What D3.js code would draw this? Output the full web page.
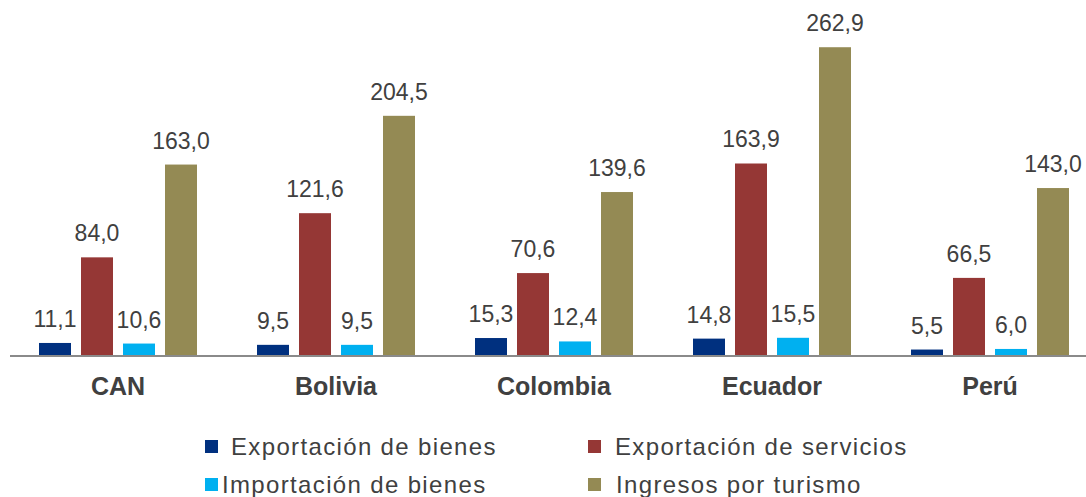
<!DOCTYPE html>
<html>
<head>
<meta charset="utf-8">
<script src="https://cdn.jsdelivr.net/npm/d3@7"></script>
<style>
  html, body { margin: 0; padding: 0; background: #ffffff; }
  svg { display: block; }
  text { font-family: "Liberation Sans", Arial, sans-serif; }
</style>
</head>
<body>
<svg id="chart" width="1086" height="497"></svg>
<script>
// ---- data ----
const categories = ["CAN", "Bolivia", "Colombia", "Ecuador", "Perú"];
const seriesNames = ["Exportación de bienes", "Exportación de servicios", "Importación de bienes", "Ingresos por turismo"];
const exportacionBienes    = [11.1, 9.5, 15.3, 14.8, 5.5];
const exportacionServicios = [84.0, 121.6, 70.6, 163.9, 66.5];
const importacionBienes    = [10.6, 9.5, 12.4, 15.5, 6.0];
const ingresosTurismo      = [163.0, 204.5, 139.6, 262.9, 143.0];
const seriesColors = ["#00307f", "#953735", "#00b0f0", "#948a54"];

const seriesValues = [exportacionBienes, exportacionServicios, importacionBienes, ingresosTurismo];

// ---- layout ----
const svg = d3.select("#chart");
const baseY = 356;

const x0 = d3.scaleBand().domain(categories).range([9, 1099]).paddingInner(0).paddingOuter(0);
const x1 = d3.scaleBand().domain(d3.range(seriesNames.length)).range([30, 188])
  .paddingInner(10 / 42).paddingOuter(0);
const y = d3.scaleLinear().domain([0, 300]).range([baseY, baseY - 300 * 1.1745]);

const fmt = v => d3.format(".1f")(v).replace(".", ",");

const rows = [];
categories.forEach((c, ci) => {
  seriesValues.forEach((arr, si) => rows.push({ cat: c, si: si, v: arr[ci] }));
});

const g = svg.append("g");

g.selectAll("rect.bar").data(rows).enter().append("rect")
  .attr("class", "bar")
  .attr("x", d => x0(d.cat) + x1(d.si))
  .attr("width", x1.bandwidth())
  .attr("y", d => y(d.v))
  .attr("height", d => y(0) - y(d.v))
  .attr("fill", d => seriesColors[d.si]);

g.selectAll("text.val").data(rows).enter().append("text")
  .attr("class", "val")
  .attr("x", d => x0(d.cat) + x1(d.si) + x1.bandwidth() / 2)
  .attr("y", d => y(d.v) - 16)
  .attr("text-anchor", "middle")
  .attr("font-size", "23px")
  .attr("fill", "#404040")
  .text(d => fmt(d.v));

// axis line
const axis = d3.axisBottom(x0).tickSize(0).tickPadding(0);
const axisG = svg.append("g").attr("transform", `translate(0,${baseY})`).call(axis);
axisG.select(".domain").attr("d", "M10,0H1086").attr("stroke", "#8a8a8a").attr("stroke-width", 2);
axisG.selectAll(".tick text")
  .attr("y", 39)
  .attr("dy", null)
  .attr("font-size", "25px")
  .attr("font-weight", "bold")
  .attr("font-family", "'Liberation Sans', Arial, sans-serif")
  .attr("fill", "#404040");

// legend
const legendSquareX = [205, 588, 205, 588];
const legendRowY = [455, 455, 493, 493];
const legendTextX = [231, 615, 222, 616];
const legendSize = 13;
const leg = svg.append("g");
seriesNames.forEach((name, i) => {
  leg.append("rect")
    .attr("x", legendSquareX[i])
    .attr("y", legendRowY[i] - 15)
    .attr("width", legendSize)
    .attr("height", legendSize)
    .attr("fill", seriesColors[i]);
  leg.append("text")
    .attr("x", legendTextX[i])
    .attr("y", legendRowY[i])
    .attr("font-size", "24px")
    .attr("letter-spacing", "1.35px")
    .attr("fill", "#404040")
    .text(name);
});
</script>
</body>
</html>
